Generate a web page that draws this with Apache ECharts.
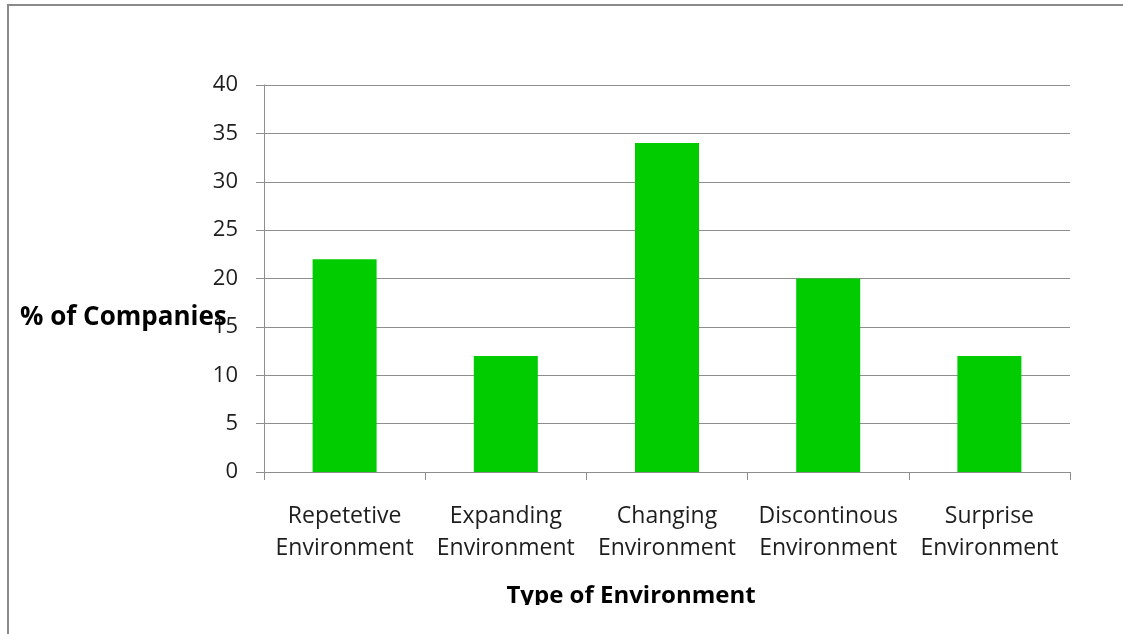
<!DOCTYPE html>
<html>
<head>
<meta charset="utf-8">
<script src="https://cdn.jsdelivr.net/npm/echarts@6/dist/echarts.min.js"></script>
<style>
  html, body { margin: 0; padding: 0; background: #ffffff; }
  #chart { width: 1123px; height: 634px; }
</style>
</head>
<body>
<div id="chart"></div>
<script>
// Share of companies by type of business environment
const categories = [
  'Repetetive\nEnvironment',
  'Expanding\nEnvironment',
  'Changing\nEnvironment',
  'Discontinous\nEnvironment',
  'Surprise\nEnvironment'
];
const percentCompanies = [22, 12, 34, 20, 12];
const yTicks = { min: 0, max: 40, interval: 5 };
const yTitle = '% of Companies';
const xTitle = 'Type of Environment';

const FONT = '"Open Sans", sans-serif';
const GRID_GREY = '#8e8e8e';

const chart = echarts.init(document.getElementById('chart'), null, { renderer: 'canvas' });

chart.setOption({
  backgroundColor: '#ffffff',
  animation: false,
  grid: { left: 264, right: 53, top: 85, bottom: 162 },
  xAxis: {
    type: 'category',
    data: categories,
    boundaryGap: true,
    axisLine: { show: true, lineStyle: { color: GRID_GREY, width: 1 } },
    axisTick: { show: true, alignWithLabel: false, length: 8, lineStyle: { color: GRID_GREY } },
    axisLabel: {
      interval: 0,
      margin: 28,
      color: '#1e1e1e',
      fontFamily: FONT,
      fontSize: 23,
      lineHeight: 32,
      align: 'center'
    },
    splitLine: { show: false }
  },
  yAxis: {
    type: 'value',
    min: yTicks.min,
    max: yTicks.max,
    interval: yTicks.interval,
    axisLine: { show: true, lineStyle: { color: GRID_GREY, width: 1 } },
    axisTick: { show: true, length: 8, lineStyle: { color: GRID_GREY } },
    axisLabel: {
      margin: 26,
      color: '#1e1e1e',
      fontFamily: FONT,
      fontSize: 22
    },
    splitLine: { show: true, lineStyle: { color: GRID_GREY, width: 1 } }
  },
  series: [{
    type: 'bar',
    data: percentCompanies,
    barWidth: 64,
    itemStyle: { color: '#00cc00' }
  }],
  graphic: [
    {
      type: 'text',
      left: 20,
      top: 305,
      style: {
        text: yTitle,
        font: 'bold 26px ' + FONT,
        fill: '#000000'
      },
      z: 100
    },
    {
      type: 'text',
      x: 631,
      y: 584,
      style: {
        text: xTitle,
        font: 'bold 24px ' + FONT,
        fill: '#000000',
        align: 'center',
        verticalAlign: 'top'
      },
      z: 100
    },
    // bottom strip trims the lower edge of the axis title
    {
      type: 'rect',
      shape: { x: 10, y: 605, width: 1113, height: 29 },
      style: { fill: '#ffffff' },
      z: 101
    },
    // frame along the left and top edges
    {
      type: 'polyline',
      shape: { points: [[8, 634], [8, 5], [1123, 5]] },
      style: { stroke: '#8a8a8a', lineWidth: 2, fill: null },
      z: 102
    }
  ]
});
</script>
</body>
</html>
